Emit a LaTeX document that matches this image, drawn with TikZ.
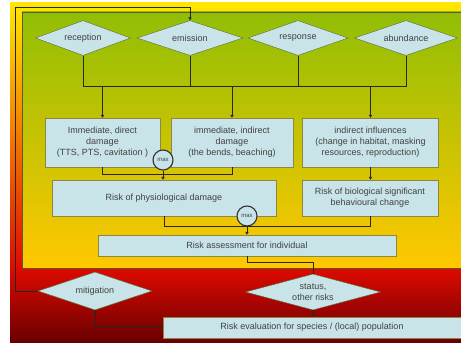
\documentclass[tikz,border=0pt]{standalone}
\usepackage{fontspec}
\setmainfont{Liberation Sans}
\usetikzlibrary{arrows.meta,shapes.geometric}
\definecolor{boxblue}{RGB}{200,228,232}
\definecolor{boxline}{RGB}{140,135,70}
\definecolor{dialine}{RGB}{85,105,55}
\definecolor{txtgray}{RGB}{65,65,65}
\definecolor{riskyellow}{RGB}{255,232,0}
\definecolor{riskorange}{RGB}{245,135,0}
\definecolor{riskred}{RGB}{222,10,0}
\definecolor{riskdark}{RGB}{105,0,0}
\definecolor{panelgreen}{RGB}{145,190,5}
\definecolor{panelmid}{RGB}{212,200,0}
\definecolor{panelgold}{RGB}{255,200,0}

\begin{document}
\begin{tikzpicture}[x=1pt,y=-1pt,
  every node/.style={font=\fontsize{9}{11}\selectfont,text=txtgray},
  infobox/.style={draw=boxline,fill=boxblue,align=center,inner sep=0pt},
  choice/.style={diamond,aspect=3.5,draw=dialine,fill=boxblue,align=center,inner sep=0pt,
    minimum height=35pt},
  maxnode/.style={circle,draw=black!80,line width=1.1pt,fill=boxblue,inner sep=0pt,
    minimum size=20pt,font=\fontsize{6}{7}\selectfont},
  link/.style={line width=0.9pt,black!85},
  arr/.style={link,-{Triangle[length=3pt,width=3.2pt]}}]
  \useasboundingbox (0,0) rectangle (461,345);

  % background zones
  \shade[top color=riskyellow,bottom color=riskorange] (10,3) rectangle (461,121);
  \shade[top color=riskorange,bottom color=riskred] (10,120) rectangle (461,269);
  \shade[top color=riskred,bottom color=riskdark] (10,268) rectangle (461,342);
  \shade[top color=panelgreen,middle color=panelmid,bottom color=panelgold,
    draw=black!45!olive,line width=0.6pt] (22,12) rectangle (462,268);

  % factors
  \node[choice,minimum width=95pt]  (recep) at (83,38)  {reception};
  \node[choice,minimum width=106pt] (emis)  at (190,38) {emission};
  \node[choice,minimum width=100pt] (resp)  at (298,38) {response};
  \node[choice,minimum width=103pt] (abund) at (406,38) {abundance};

  % effects
  \node[infobox,minimum width=115pt,minimum height=49pt] (direct) at (102.5,142.5)
    {Immediate, direct\\damage\\(TTS, PTS, cavitation )};
  \node[infobox,minimum width=122pt,minimum height=49pt] (indirect) at (232,142.5)
    {immediate, indirect\\damage\\(the bends, beaching)};
  \node[infobox,minimum width=136pt,minimum height=49pt] (influ) at (370.5,142.5)
    {indirect influences\\(change in habitat, masking\\resources, reproduction)};

  \node[infobox,minimum width=224pt,minimum height=36pt] (physio) at (164,198)
    {Risk of physiological damage};
  \node[infobox,minimum width=136pt,minimum height=36pt] (behav) at (370,198)
    {Risk of biological significant\\behavioural change};
  \node[infobox,minimum width=298pt,minimum height=21pt] (assess) at (247,245.5)
    {Risk assessment for individual};

  % population level
  \node[choice,minimum width=114pt,minimum height=38pt] (mitig) at (95,291) {mitigation};
  \node[choice,minimum width=135pt,minimum height=36pt] (status) at (313,292)
    {status,\\other risks};
  \node[infobox,minimum width=298pt,minimum height=21pt] (evalpop) at (312,327.5)
    {Risk evaluation for species / (local) population};

  % bus below the factors
  \coordinate (bus) at (0,86);
  \draw[link] (recep.south) |- (abund.south |- bus) -- (abund.south);
  \draw[link] (emis.south) -- (emis.south |- bus);
  \draw[link] (resp.south) -- (resp.south |- bus);
  \draw[arr] (direct.north |- bus) -- (direct.north);
  \draw[arr] (indirect.north |- bus) -- (indirect.north);
  \draw[arr] (influ.north |- bus) -- (influ.north);

  % combining
  \draw[link] (direct.south) -- ++(0,7) -| (indirect.south);
  \node[maxnode] (maxA) at (163,160) {max};
  \draw[arr] (maxA.south) -- (physio.north -| maxA);
  \draw[arr] (influ.south) -- (behav.north -| influ.south);

  \draw[link] (physio.south) -- ++(0,10) -| (behav.south);
  \node[maxnode] (maxB) at (247,216) {max};
  \draw[arr] (maxB.south) -- (assess.north);

  \draw[link] (assess.south) -- ++(0,6.5) -| (status.north);
  \draw[arr] (status.south) -- (evalpop.north -| status.south);
  \draw[arr] (evalpop.west) -| (mitig.south);

  % feedback loop
  \coordinate (loopTL) at (15,7);
  \draw[arr] (mitig.west) -| (loopTL) -| (emis.north);
\end{tikzpicture}
\end{document}
